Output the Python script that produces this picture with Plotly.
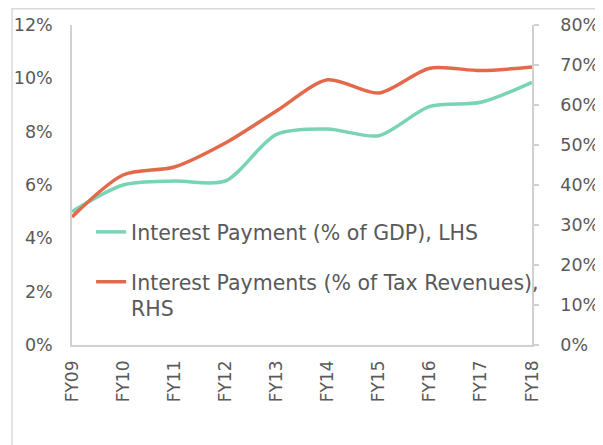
import plotly.graph_objects as go

categories = ["FY09", "FY10", "FY11", "FY12", "FY13", "FY14", "FY15", "FY16", "FY17", "FY18"]
gdp_pct = [5.0, 6.0, 6.15, 6.15, 7.9, 8.1, 7.85, 8.95, 9.1, 9.85]
tax_pct = [32.0, 42.5, 44.5, 50.5, 58.5, 66.3, 63.0, 69.2, 68.6, 69.5]

GREEN = "#79d3b6"
RED = "#e2694a"
GRAY_TXT = "#595959"
GRAY_LINE = "#d0d0d0"
FONT = "DejaVu Sans"

fig = go.Figure()
fig.add_trace(go.Scatter(
    x=categories, y=gdp_pct, mode="lines",
    line=dict(color=GREEN, width=3.5, shape="spline", smoothing=0.8),
    name="Interest Payment (% of GDP), LHS", legend="legend",
))
fig.add_trace(go.Scatter(
    x=categories, y=tax_pct, mode="lines", yaxis="y2",
    line=dict(color=RED, width=3.5, shape="spline", smoothing=0.8),
    name="Interest Payments (% of Tax Revenues),<br>RHS", legend="legend2",
))

legend_common = dict(
    bgcolor="rgba(0,0,0,0)", borderwidth=0,
    font=dict(family=FONT, size=20.5, color=GRAY_TXT),
    itemwidth=30, xanchor="left", yanchor="middle", valign="top",
)

# page body has an 8px margin, so the figure is sized/margined to compensate
fig.update_layout(
    width=595, height=437,
    margin=dict(l=64, r=71, t=17, b=100, autoexpand=False),
    showlegend=True,
    paper_bgcolor="white", plot_bgcolor="white",
    font=dict(family=FONT, color=GRAY_TXT),
    xaxis=dict(
        type="category", showline=True, linecolor=GRAY_LINE, linewidth=1.5,
        showgrid=False, ticks="", tickangle=-90, ticklabelstandoff=7,
        tickfont=dict(family=FONT, size=17, color=GRAY_TXT),
        zeroline=False, automargin=False,
    ),
    yaxis=dict(
        range=[0, 12], dtick=2, ticksuffix="%", showgrid=False,
        showline=True, linecolor=GRAY_LINE, linewidth=1.5, ticks="",
        ticklabelstandoff=14, zeroline=False, automargin=False,
        tickfont=dict(family=FONT, size=17.5, color=GRAY_TXT),
    ),
    yaxis2=dict(
        range=[0, 80], dtick=10, ticksuffix="%", showgrid=False,
        overlaying="y", side="right",
        showline=True, linecolor=GRAY_LINE, linewidth=1.5,
        ticks="outside", ticklen=5, tickcolor=GRAY_LINE, tickwidth=1.5,
        ticklabelstandoff=18, zeroline=False, automargin=False,
        tickfont=dict(family=FONT, size=17.5, color=GRAY_TXT),
    ),
    legend=dict(x=0.0415, y=0.353, **legend_common),
    legend2=dict(x=0.0415, y=0.155, **legend_common),
    shapes=[dict(
        type="rect", xref="paper", yref="paper",
        x0=-0.1304, x1=1.1435, y0=-0.35, y1=1.051,
        line=dict(color="#d9d9d9", width=1.5), layer="below",
    )],
)

fig.write_html("out.html")
